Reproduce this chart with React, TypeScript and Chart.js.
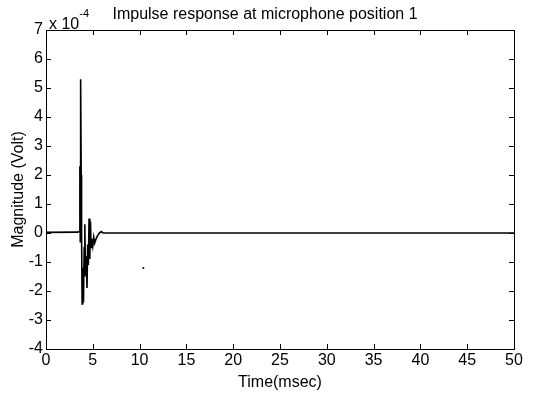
import React, { useEffect, useRef } from "react";
import { Chart, registerables } from "chart.js";

Chart.register(...registerables);

const timeMs = [0, 3.4, 3.55, 3.62, 3.66, 3.7, 3.76, 3.8, 3.86, 3.92, 4.0, 4.08, 4.15, 4.22, 4.3, 4.38, 4.45, 4.52, 4.6, 4.68, 4.75, 4.82, 4.9, 5.0, 5.1, 5.2, 5.35, 5.5, 5.7, 5.9, 6.1, 50];
const magnitude = [0.02, 0.03, 0.05, 2.3, -0.3, 5.3, 2.0, 0.0, -2.45, -1.2, -2.4, -0.5, 0.3, -1.5, -0.8, -1.9, -0.4, -1.1, 0.5, -0.9, 0.4, -0.5, -0.2, -0.45, -0.15, -0.35, -0.2, -0.1, 0.0, 0.05, 0.0, 0.0];
const strayPoint = [{ x: 10.4, y: -1.21 }];
const xTicks = [0, 5, 10, 15, 20, 25, 30, 35, 40, 45, 50];
const yTicks = [-4, -3, -2, -1, 0, 1, 2, 3, 4, 5, 6, 7];

const FONT = "Liberation Sans, Arial, sans-serif";

const framePlugin = {
  id: "frame",
  afterDraw(chart: any) {
    const { ctx, chartArea: a, scales } = chart;
    ctx.save();
    ctx.strokeStyle = "#000";
    ctx.lineWidth = 1;
    ctx.strokeRect(a.left + 0.5, a.top + 0.5, a.right - a.left, a.bottom - a.top);
    const tl = 5;
    ctx.beginPath();
    for (const v of xTicks) {
      const x = Math.round(scales.x.getPixelForValue(v)) + 0.5;
      ctx.moveTo(x, a.bottom);
      ctx.lineTo(x, a.bottom - tl);
      ctx.moveTo(x, a.top);
      ctx.lineTo(x, a.top + tl);
    }
    for (const v of yTicks) {
      const y = Math.round(scales.y.getPixelForValue(v)) + 0.5;
      ctx.moveTo(a.left, y);
      ctx.lineTo(a.left + tl, y);
      ctx.moveTo(a.right, y);
      ctx.lineTo(a.right - tl, y);
    }
    ctx.stroke();

    ctx.fillStyle = "#000";
    ctx.font = `16px ${FONT}`;
    ctx.textAlign = "center";
    ctx.textBaseline = "alphabetic";
    ctx.fillText("Impulse response at microphone position 1", 265, 19);
    ctx.fillText("Time(msec)", (a.left + a.right) / 2, 387);

    ctx.textAlign = "left";
    ctx.fillText("x 10", 49, 29);
    const w = ctx.measureText("x 10").width;
    ctx.font = `11px ${FONT}`;
    ctx.fillText("-4", 49 + w, 17);

    ctx.font = `16px ${FONT}`;
    ctx.translate(23, (a.top + a.bottom) / 2);
    ctx.rotate(-Math.PI / 2);
    ctx.textAlign = "center";
    ctx.fillText("Magnitude (Volt)", 0, 0);
    ctx.restore();
  },
};

export default function App() {
  const ref = useRef<HTMLCanvasElement>(null);
  useEffect(() => {
    document.body.style.margin = "0";
    const data = timeMs.map((t, i) => ({ x: t, y: magnitude[i] }));
    const chart = new Chart(ref.current!, {
      type: "line",
      data: {
        datasets: [
          {
            data,
            borderColor: "#000",
            borderWidth: 1.6,
            pointRadius: 0,
            tension: 0,
          },
          {
            type: "scatter",
            data: strayPoint,
            backgroundColor: "#000",
            borderColor: "#000",
            pointRadius: 1,
            borderWidth: 0,
          } as any,
        ],
      },
      options: {
        responsive: false,
        animation: false,
        layout: { padding: { top: 30, right: 22, left: 0, bottom: 0 } },
        plugins: { legend: { display: false }, tooltip: { enabled: false }, title: { display: false } },
        scales: {
          x: {
            type: "linear",
            min: 0,
            max: 50,
            afterBuildTicks: (s: any) => { s.ticks = xTicks.map((v) => ({ value: v })); },
            afterFit: (s: any) => { s.height = 45; },
            grid: { display: false, drawTicks: false },
            border: { display: false },
            ticks: { color: "#000", font: { family: FONT, size: 16 }, padding: 2, maxRotation: 0 },
          },
          y: {
            type: "linear",
            min: -4,
            max: 7,
            afterBuildTicks: (s: any) => { s.ticks = yTicks.map((v) => ({ value: v })); },
            afterFit: (s: any) => { s.width = 46; },
            grid: { display: false, drawTicks: false },
            border: { display: false },
            ticks: { color: "#000", font: { family: FONT, size: 16 }, padding: 3 },
          },
        },
      },
      plugins: [framePlugin],
    });
    return () => chart.destroy();
  }, []);
  return <canvas ref={ref} width={536} height={394} />;
}
